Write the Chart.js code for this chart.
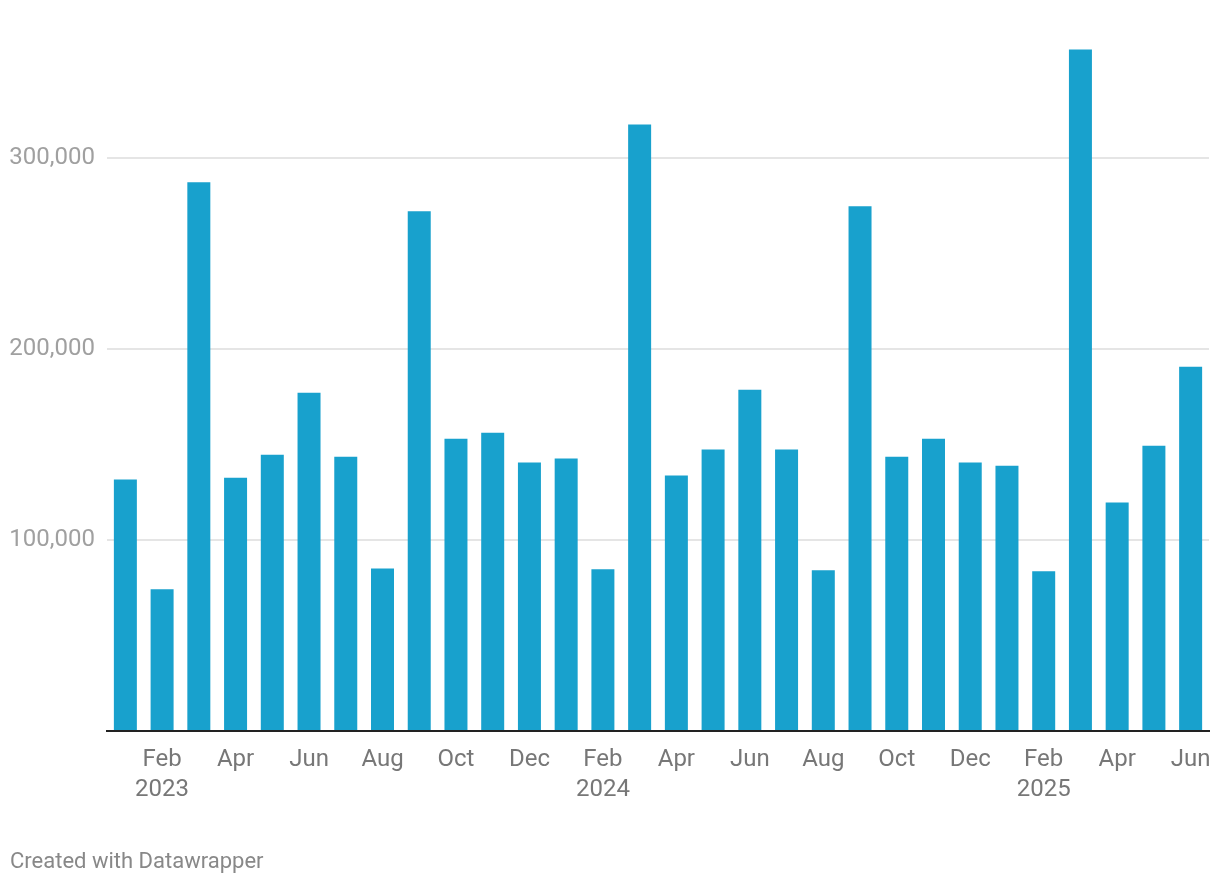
<!DOCTYPE html>
<html>
<head>
<meta charset="utf-8">
<script src="https://cdn.jsdelivr.net/npm/chart.js@4.4.1/dist/chart.umd.min.js"></script>
<style>
  html, body { margin: 0; padding: 0; background: #fff; }
  #wrap { position: relative; width: 1220px; height: 884px; }
  #footer {
    position: absolute; left: 10px; top: 848px;
    font-family: Roboto, sans-serif; font-size: 22px; color: #888;
  }
</style>
</head>
<body>
<div id="wrap">
  <canvas id="chart" width="1220" height="884"></canvas>
  <div id="footer">Created with Datawrapper</div>
</div>
<script>
// months Jan 2023 - Jun 2025
const months = [
  "Jan 2023", "Feb 2023", "Mar 2023", "Apr 2023", "May 2023", "Jun 2023",
  "Jul 2023", "Aug 2023", "Sep 2023", "Oct 2023", "Nov 2023", "Dec 2023",
  "Jan 2024", "Feb 2024", "Mar 2024", "Apr 2024", "May 2024", "Jun 2024",
  "Jul 2024", "Aug 2024", "Sep 2024", "Oct 2024", "Nov 2024", "Dec 2024",
  "Jan 2025", "Feb 2025", "Mar 2025", "Apr 2025", "May 2025", "Jun 2025",
];

const values = [
  131600, 74200, 287200, 132600, 144600, 177000,
  143600, 85100, 272000, 153000, 156100, 140500,
  142600, 84600, 317500, 133700, 147300, 178600,
  147300, 84100, 274700, 143600, 153000, 140500,
  138900, 83600, 356700, 119600, 149300, 190600,
];

// x tick labels (every second month, year under Feb)
const tickLabels = [
  "", ["Feb", "2023"], "", "Apr", "", "Jun",
  "", "Aug", "", "Oct", "", "Dec",
  "", ["Feb", "2024"], "", "Apr", "", "Jun",
  "", "Aug", "", "Oct", "", "Dec",
  "", ["Feb", "2025"], "", "Apr", "", "Jun",
];

const yTicks = [0, 100000, 200000, 300000];

const ctx = document.getElementById("chart").getContext("2d");
new Chart(ctx, {
  type: "bar",
  data: {
    labels: months,
    datasets: [{
      data: values,
      backgroundColor: "#18a1cd",
      barPercentage: 1,
      categoryPercentage: 0.626,
    }],
  },
  options: {
    responsive: false,
    animation: false,
    layout: { padding: { top: 5, right: 11, left: 0, bottom: 0 } },
    plugins: { legend: { display: false }, tooltip: { enabled: false } },
    scales: {
      x: {
        grid: { display: false, drawTicks: false },
        border: { display: true, color: "#222", width: 2 },
        ticks: {
          autoSkip: false,
          maxRotation: 0,
          padding: 14,
          color: "#777",
          font: { family: "Roboto", size: 24, lineHeight: 1.25 },
          callback: (v, i) => tickLabels[i],
        },
        afterFit: (s) => { s.height = 153; s.paddingLeft = 0; s.paddingRight = 0; },
      },
      y: {
        min: 0,
        max: 380000,
        grid: { color: "#e5e5e5", lineWidth: 2, drawTicks: false },
        border: { display: false },
        afterBuildTicks: (s) => { s.ticks = yTicks.map((v) => ({ value: v })); },
        ticks: {
          padding: 12,
          color: "#a0a0a0",
          font: { family: "Roboto", size: 24 },
          callback: (v) => (v === 0 ? "" : v.toLocaleString("en-US")),
        },
        afterFit: (s) => { s.width = 107; s.paddingTop = 0; s.paddingBottom = 0; },
      },
    },
  },
});
</script>
</body>
</html>
